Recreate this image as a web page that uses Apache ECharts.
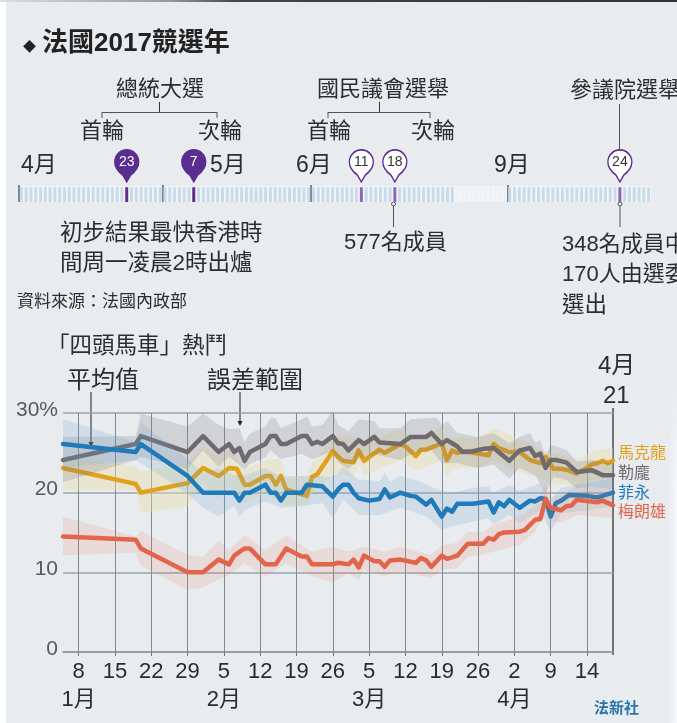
<!DOCTYPE html>
<html>
<head>
<meta charset="utf-8">
<title>法國2017競選年</title>
<script src="https://cdn.jsdelivr.net/npm/echarts@6/dist/echarts.min.js"></script>
<style>
  html, body { margin: 0; padding: 0; background: #e9ecef; overflow: hidden; }
  #chart { position: absolute; left: 0; top: 0; width: 677px; height: 723px; }
  .edge-left { position: absolute; left: 0; top: 0; width: 6px; height: 723px; background: #fff; }
  .edge-top { position: absolute; left: 0; top: 0; width: 677px; height: 2px;
    background: linear-gradient(90deg, #ddd 0, #999 25%, #444 35%, #333 100%); }
  .edge-right { position: absolute; right: 0; top: 380px; width: 9px; height: 343px;
    background: linear-gradient(90deg, rgba(255,255,255,0), rgba(255,255,255,0.65));
    -webkit-mask-image: linear-gradient(180deg, transparent, #000 30%); }
</style>
</head>
<body>
<div id="chart"></div>
<div class="edge-left"></div>
<div class="edge-top"></div>
<div class="edge-right"></div>
<script>
// poll chart: day of 2017 (Jan 1 = 1), percent
const xTickDays = [8, 15, 22, 29, 36, 43, 50, 57, 64, 71, 78, 85, 92, 99, 106];
const xTickLabels = ['8\n1月', '15', '22', '29', '5\n2月', '12', '19', '26', '5\n3月', '12', '19', '26', '2\n4月', '9', '14'];
const yTickValues = [0, 10, 20, 30];
const yTickLabels = ['0', '10', '20', '30%'];

const macron = [[5,23.1],[19,21.1],[20,20],[29,21.2],[32,23.1],[35,22.1],[37,23.1],[38.5,23],[40,21],[41,21],[44,22.1],[45,22.1],[46,21],[47,22.1],[48,20.4],[52,19.6],[53,22],[54,22.3],[57,25.2],[58,24.5],[59,24],[61,23.8],[62,25.3],[63,24],[66,25.4],[67,25],[70,26.1],[71,25.8],[73,24.6],[74,25.4],[75,25.4],[78,26.2],[79,24.1],[80,25.3],[81,25],[82,25.2],[85,24.9],[87,24.7],[88,26.1],[89,25.6],[91,25.1],[93,25.1],[95,24.1],[97,23.7],[98,24.5],[99.5,23],[101,23],[102.5,22.8],[104,22.4],[106,23.1],[107,23.6],[108,23.7],[109,24],[110,23.7],[111,24]];
const lepen = [[5,24.1],[19,26.1],[20,27.1],[29,25.1],[32,27.1],[35,25.1],[37,26.1],[38,25.1],[39,25.6],[40,24],[41,25.1],[44,26.1],[45,27.1],[46,27.1],[47,26.1],[48,26.1],[51,27.1],[52,27.1],[53,26.1],[54,26.4],[55,26.1],[57,27.1],[58,26.2],[59,26.1],[60,25.3],[62,26.6],[63,26.1],[65,27],[66,26.3],[70,26.1],[72,27],[75,27],[76,27.5],[78,26.1],[79,26.6],[81,25.8],[82,25.1],[84,25.2],[86,25.5],[88,25.6],[91,24],[93,25.3],[95,25.6],[96,24.6],[97,24.9],[98,23.1],[99,24.1],[100,24.1],[102,23.8],[104,22.6],[107,22.8],[109,22.2],[111,22.2]];
const fillon = [[5,26.1],[19,25.1],[20,26.1],[29,22.1],[32,20],[38,20],[39,19],[40,20],[41,20],[44,21],[45,20],[46,20],[47,19],[48,20],[51,20],[52,21],[55,20.8],[57,19.5],[58,20.4],[59,21],[60,21],[61,20],[62,19.3],[64,19],[66,19.2],[67,20.4],[68,19.4],[70,20],[72,19.6],[73,19.5],[75,18.5],[76,19.1],[78,17],[79,18],[80,17.6],[81,18.6],[84,18.6],[87,18.9],[88,17.5],[89,18.8],[90,18.3],[91,19.1],[93,18.1],[95,19],[96,18.9],[97,19.3],[98,19.2],[99,17],[100,18.7],[101,19],[102.5,19.7],[106,19.6],[108,19.4],[111,20]];
const melenchon = [[5,14.5],[19,14.1],[20,13],[29,10],[32,10],[35,11.6],[37,11],[38,12.1],[40,13],[41,13],[44,11],[46,11],[48,13],[51,12],[52,12],[53,11],[57,11],[58,11.2],[60,11],[61,11.6],[62,10.6],[63,12.1],[65,11.4],[66,11.4],[67,10.7],[68,11.5],[70,11.6],[73,11.2],[74,11.8],[75,11.5],[76,10.7],[78,12.1],[79,11.7],[81,12.1],[83,13.6],[86,13.6],[87,14.3],[88,14.1],[89,14.8],[90,15],[93,15.1],[94,15.3],[96,16.6],[97,16.7],[98,19.2],[99,18.1],[101,17.8],[102,18.3],[103,18.4],[104,19.1],[108,18.8],[109,19],[111,18.4]];

// error margin, upper and lower edge
const macronHigh = [[5,24.5],[19,23.3],[20,22.7],[29,23.7],[32,25.8],[35,24.5],[37,25.6],[40,23],[44,24.1],[45,24.2],[47,24.3],[48,22.1],[52,22.1],[53,23.7],[57,27],[58,27.1],[62,27],[63,26.2],[70,28.1],[73,26.6],[78,28.3],[79,26],[80,27],[85,26.8],[88,28.1],[91,27.3],[95,26.2],[97,25.4],[99.5,25],[104,24.1],[107,25.2],[111,25.6]];
const macronLow = [[5,20.3],[19,20.3],[20,17.4],[29,18.3],[32,21.2],[35,19.1],[37,20.8],[40,18.7],[44,19.9],[48,18.3],[52,18.3],[53,19.9],[57,22.2],[58,22.5],[61,22],[62,23.5],[63,22.2],[70,24.1],[73,22.7],[78,24.1],[79,21.8],[80,23.1],[85,23.1],[88,24.1],[91,23.1],[95,22.2],[97,21.8],[99.5,21.2],[104,20.7],[107,21.6],[111,22]];
const lepenHigh = [[5,27],[19,27.1],[20,29.9],[29,28.3],[32,29.9],[35,28.5],[37,28],[39,28.1],[40,26.3],[41,27.4],[44,28.3],[45,29.4],[46,29.3],[47,28.1],[51,29.2],[52,29.6],[53,28.3],[55,28.5],[57,30.3],[58,28.5],[60,27.7],[62,29.2],[65,29],[66,28.1],[70,28.1],[72,29.2],[77,29.4],[78,28.5],[79,29],[81,27.5],[85,27],[88,27.5],[91,26.2],[93,27],[95,27.5],[96,26.3],[97,26.6],[98,24.5],[99,26],[102,25.4],[104,23.9],[107,24.1],[111,23.7]];
const lepenLow = [[5,21.3],[19,24.1],[20,24.5],[29,23],[32,25.3],[35,23.2],[37,24.5],[39,23.5],[40,22.9],[41,23.6],[44,24.4],[45,25.3],[47,24.2],[51,24.9],[53,24.2],[57,25.2],[58,23.8],[60,23],[62,24.3],[65,24.8],[70,24.1],[72,24.8],[76,25.4],[78,23.7],[81,23.7],[85,23.1],[88,23.5],[91,21.8],[93,23.1],[96,22.2],[98,19.9],[99.6,22],[102,21.6],[104,20.6],[107,20.7],[111,20.4]];
const fillonHigh = [[5,29.2],[19,26.4],[20,28.8],[29,24.2],[32,22.5],[35,23.1],[38,22.2],[40,22.2],[44,23.1],[47,22],[51,22.1],[57,22],[58,22.5],[59,23.3],[62,21.6],[64,21.6],[66,21.4],[67,22.5],[68,21.4],[70,22.1],[73,21.6],[78,20.2],[80,20],[84,20.6],[87,20.8],[88,20],[91,21],[93,20.2],[97,21.2],[99,19.1],[101,20.6],[106,21.2],[111,21.8]];
const fillonLow = [[5,23.1],[19,24.1],[20,23.7],[29,19.9],[32,18.1],[35,17],[38,18.3],[39,17],[40,17.8],[44,18.9],[47,18.1],[51,18.3],[55,18.7],[57,16.8],[59,19.1],[62,17.2],[66,17.2],[70,18.1],[75,17],[78,15.3],[80,15.8],[87,16.8],[88,16],[91,17.2],[93,16.2],[97,17.8],[99,15.1],[101,17.4],[106,17.8],[111,18.3]];
const melenchonHigh = [[5,17],[19,14.5],[20,15.2],[29,12.2],[32,12],[35,14],[37,12.8],[40,14.7],[44,12.8],[48,14.6],[53,12.6],[57,13.2],[60,12.6],[63,13.2],[67,12.6],[70,13.2],[76,12.2],[78,13.4],[81,13.7],[83,15.1],[86,15.1],[88,16],[93,17],[96,18.3],[98,21.2],[99,19.5],[101,19.7],[104,20.8],[111,20.4]];
const melenchonLow = [[5,12.1],[19,12.5],[20,10.8],[29,7.8],[32,8.1],[37,9.7],[40,11.1],[44,9.5],[48,11.1],[53,9.5],[57,8.7],[60,9.9],[62,9],[63,10.3],[67,9.5],[70,10.1],[76,9.3],[78,10.3],[81,10.5],[83,12],[86,12.2],[88,12.6],[93,13.4],[96,15.1],[98,17.4],[99,16.4],[101,16.2],[104,17.2],[111,16.8]];

// timeline: months, number of day stripes; 11 blank stripes stand for July/August
const timelineMonths = [30, 31, 30, 11, 30];
const fadedMonth = 3;
const firstRoundDays = [22.5, 36.5];
const firstRoundLabels = ['23', '7'];
const otherVoteDays = [71.5, 78.5, 125.5];
const otherVoteLabels = ['11', '18', '24'];

const LATIN = '"Liberation Sans", "Noto Sans CJK TC"';
const CJK = '"Noto Sans CJK TC"';
const PURPLE = '#5a2d91';
// round head with a short tip
const PIN_PATH = 'path://M12 0C18.6 0 24 5.4 24 12C24 18 20 22 16 25L12 32L8 25C4 22 0 18 0 12C0 5.4 5.4 0 12 0Z';

// draw order follows the paper: each band covers the lines below it
const candidates = [
  { name: '馬克龍', line: macron, high: macronHigh, low: macronLow, color: '#e0a11b', band: 'rgba(231,222,170,0.42)' },
  { name: '勒龐', line: lepen, high: lepenHigh, low: lepenLow, color: '#6f6a70', band: 'rgba(120,118,128,0.22)' },
  { name: '菲永', line: fillon, high: fillonHigh, low: fillonLow, color: '#1f7ab9', band: 'rgba(110,165,205,0.2)' },
  { name: '梅朗雄', line: melenchon, high: melenchonHigh, low: melenchonLow, color: '#e2644a', band: 'rgba(225,120,95,0.15)' }
];

const chart = echarts.init(document.getElementById('chart'));

const pollSeries = [];
candidates.forEach((c, i) => {
  const outline = c.high.concat(c.low.slice().reverse());
  pollSeries.push({
    name: c.name + '誤差',
    type: 'custom',
    z: 3 + i * 2,
    silent: true,
    encode: { x: 0, y: 1 },
    data: outline,
    renderItem: function (params, api) {
      if (params.dataIndex !== 0) return null;
      return {
        type: 'polygon',
        shape: { points: outline.map(p => api.coord(p)) },
        style: { fill: c.band }
      };
    }
  });
  pollSeries.push({
    name: c.name,
    type: 'line',
    z: 4 + i * 2,
    showSymbol: false,
    silent: true,
    data: c.line,
    lineStyle: { color: c.color, width: 4.5, cap: 'round', join: 'round' },
    itemStyle: { color: c.color }
  });
});

// day stripes of the timeline
const stripes = [];
const monthStarts = [];
let dayIndex = 0;
timelineMonths.forEach((count, m) => {
  if (m !== fadedMonth) monthStarts.push(dayIndex);
  for (let d = 0; d < count; d++) {
    const x = dayIndex + 0.5;
    let color = m === fadedMonth ? '#eef2f5' : '#c9dbe7';
    if (firstRoundDays.includes(x)) color = PURPLE;
    if (otherVoteDays.includes(x)) color = '#8a68b4';
    stripes.push({ value: [x, 0.87], itemStyle: { color } });
    dayIndex++;
  }
});

function pinSeries(days, labels, fill, stroke, textColor) {
  return {
    type: 'scatter',
    xAxisIndex: 1,
    yAxisIndex: 1,
    z: 8,
    clip: false,
    silent: true,
    symbol: PIN_PATH,
    symbolSize: [24, 32],
    symbolOffset: [0, -16],
    itemStyle: { color: fill, borderColor: stroke, borderWidth: 1.5, opacity: 1 },
    label: {
      show: true,
      position: 'inside',
      offset: [0, -4],
      color: textColor,
      fontFamily: LATIN,
      fontSize: 14,
      formatter: p => p.data[2]
    },
    data: days.map((d, i) => [d, 1.18, labels[i]])
  };
}

function txt(text, x, y, size, extra) {
  return {
    type: 'text',
    x,
    y: y + 2,
    style: Object.assign({
      text,
      fill: '#2d2d2d',
      fontFamily: LATIN,
      fontSize: size,
      verticalAlign: 'middle',
      align: 'left'
    }, extra)
  };
}

function seg(x1, y1, x2, y2, color, width) {
  return {
    type: 'line',
    shape: { x1, y1, x2, y2 },
    style: { stroke: color || '#3c3c3c', lineWidth: width || 1 }
  };
}

function arrow(x, y1, y2) {
  return [
    seg(x, y1, x, y2 - 3, '#1c1c1c', 1),
    { type: 'polygon', shape: { points: [[x - 2.5, y2 - 5], [x + 2.5, y2 - 5], [x, y2]] }, style: { fill: '#1c1c1c' } }
  ];
}

function dot(x, y) {
  return { type: 'circle', shape: { cx: x, cy: y, r: 2 }, style: { fill: '#e9ecef', stroke: '#555', lineWidth: 1 } };
}

const annotations = [
  txt('◆', 23, 44, 13, { fontFamily: CJK, fill: '#222' }),
  txt('法國2017競選年', 42, 42, 26, { fontWeight: 'bold', fill: '#222' }),

  txt('總統大選', 160, 88, 22, { align: 'center' }),
  txt('國民議會選舉', 383, 88, 22, { align: 'center' }),
  txt('參議院選舉', 570, 89, 22),
  seg(102, 112.5, 217, 112.5, '#555', 1.2), seg(102, 112, 102, 118, '#555', 1), seg(217, 112, 217, 118, '#555', 1), seg(159.5, 102, 159.5, 112, '#333', 1),
  seg(328, 112.5, 430, 112.5, '#555', 1.2), seg(328, 112, 328, 118, '#555', 1), seg(430, 112, 430, 118, '#555', 1), seg(379.5, 102, 379.5, 112, '#333', 1),
  txt('首輪', 102, 130, 22, { align: 'center' }),
  txt('次輪', 220, 130, 22, { align: 'center' }),
  txt('首輪', 329, 130, 22, { align: 'center' }),
  txt('次輪', 433, 130, 22, { align: 'center' }),
  txt('4月', 21, 164, 23),
  txt('5月', 210, 164, 23),
  txt('6月', 296, 164, 23),
  txt('9月', 494, 164, 23),
  seg(619.5, 104, 619.5, 150, '#555', 1),
  seg(393.5, 206, 393.5, 227, '#555', 1), dot(393.5, 204),
  seg(620, 206, 620, 227, '#555', 1), dot(620, 204),

  txt('初步結果最快香港時', 60, 232, 22.5),
  txt('間周一凌晨2時出爐', 60, 262, 22.5),
  txt('577名成員', 344, 241, 22),
  txt('348名成員中', 562, 243, 22),
  txt('170人由選委', 562, 273, 22),
  txt('選出', 562, 304, 22.5),
  txt('資料來源：法國內政部', 17, 300, 17),

  txt('「四頭馬車」熱鬥', 47, 345, 22.5),
  txt('平均值', 67, 379, 24),
  txt('誤差範圍', 207, 379, 24),
  txt('4月', 598, 364, 24),
  txt('21', 603, 394, 24),
  ...arrow(91, 392, 447),
  ...arrow(240, 392, 426),
  seg(613, 408, 613, 655, '#222', 1.2),

  txt('馬克龍', 618, 452, 16, { fill: candidates[0].color }),
  txt('勒龐', 618, 472, 16, { fill: candidates[1].color }),
  txt('菲永', 618, 492, 16, { fill: candidates[2].color }),
  txt('梅朗雄', 618, 511, 16, { fill: candidates[3].color }),
  txt('法新社', 594, 707, 15, { fill: '#2a74ad', fontWeight: 'bold' })
];

chart.setOption({
  animation: false,
  backgroundColor: 'transparent',
  grid: [
    { left: 63, right: 64, top: 413, bottom: 71 },
    { left: 19, width: 632, top: 185, height: 17 }
  ],
  xAxis: [
    {
      type: 'value',
      min: 5,
      max: 111,
      axisLine: { show: true, lineStyle: { color: '#8c979f', width: 1.5 } },
      axisTick: { show: true, length: 4, customValues: xTickDays, lineStyle: { color: '#6d7880' } },
      splitLine: { show: true, lineStyle: { color: '#7f8a93', width: 1 } },
      axisLabel: {
        customValues: xTickDays,
        margin: 6,
        color: '#2b2b2b',
        fontFamily: LATIN,
        fontSize: 22,
        lineHeight: 28,
        formatter: v => xTickLabels[xTickDays.indexOf(v)]
      }
    },
    {
      gridIndex: 1,
      type: 'value',
      min: 0,
      max: 132,
      show: false
    }
  ],
  yAxis: [
    {
      type: 'value',
      min: 0,
      max: 30,
      interval: 10,
      axisLine: { show: false },
      axisTick: { show: false },
      splitLine: { show: true, lineStyle: { color: '#98a3ac', width: 1.5 } },
      axisLabel: {
        margin: 5,
        verticalAlign: 'bottom',
        lineHeight: 6,
        color: '#58595b',
        fontFamily: LATIN,
        fontSize: 21,
        formatter: v => yTickLabels[yTickValues.indexOf(v)]
      }
    },
    {
      gridIndex: 1,
      type: 'value',
      min: 0,
      max: 1,
      show: false
    }
  ],
  series: pollSeries.concat([
    {
      type: 'bar',
      xAxisIndex: 1,
      yAxisIndex: 1,
      barWidth: 3,
      z: 6,
      silent: true,
      data: stripes,
      markArea: {
        silent: true,
        itemStyle: { color: '#f3f6f8' },
        data: [[{ coord: [0, 0] }, { coord: [132, 0.92] }]]
      },
      markLine: {
        silent: true,
        symbol: 'none',
        label: { show: false },
        lineStyle: { color: '#56616b', width: 1.5, type: 'solid' },
        data: monthStarts.map(x => ({ xAxis: x }))
      }
    },
    pinSeries(firstRoundDays, firstRoundLabels, PURPLE, PURPLE, '#fff'),
    pinSeries(otherVoteDays, otherVoteLabels, '#fff', PURPLE, '#333')
  ]),
  graphic: { elements: annotations }
});

window.addEventListener('resize', () => chart.resize());
</script>
</body>
</html>
